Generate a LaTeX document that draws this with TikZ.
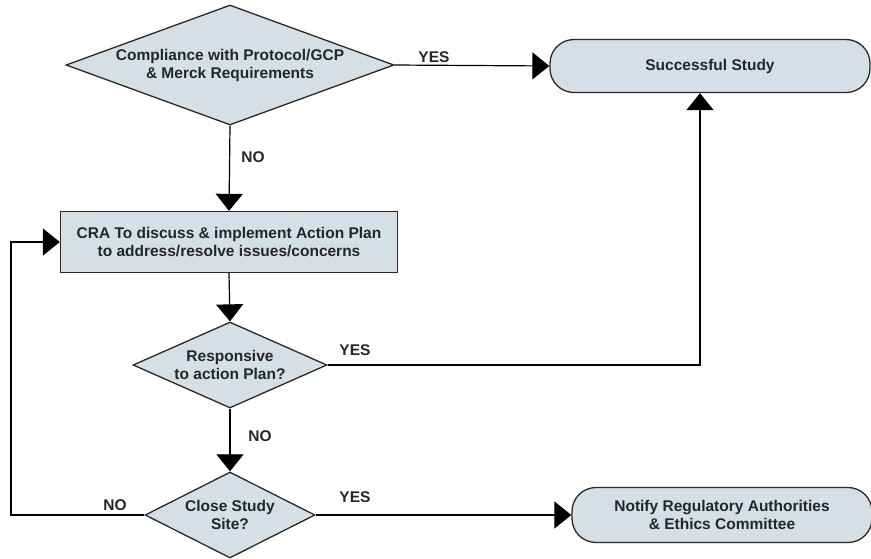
\documentclass[tikz,border=0pt]{standalone}
\usepackage{fontspec}
\setmainfont{Liberation Sans}
\usetikzlibrary{shapes.geometric,arrows.meta}
\definecolor{boxfill}{RGB}{213,224,230}
\definecolor{edge}{RGB}{40,40,40}
\begin{document}
\begin{tikzpicture}[x=1pt,y=-1pt,
  every node/.style={font=\bfseries\fontsize{15.5}{18}\selectfont, text=black!85},
  dec/.style={diamond, draw=edge, fill=boxfill, line width=1.3pt, inner sep=0pt},
  dtext/.style={align=center, inner sep=0pt},
  proc/.style={rectangle, draw=edge, fill=boxfill, line width=1.3pt, align=center, inner sep=0pt},
  term/.style={rectangle, rounded corners=24pt, draw=edge, fill=boxfill, line width=1.3pt, align=center, inner sep=0pt},
  conn/.style={draw=black, line width=1.2pt, -{Triangle[length=17pt,width=27pt]}},
  lbl/.style={inner sep=0pt}]
\useasboundingbox (0,0) rectangle (871,558);
\node[dec, minimum width=328pt, minimum height=120pt] (d1) at (230,65) {};
\node[dtext] (d1t) at (d1.center) {Compliance with Protocol/GCP\\\& Merck Requirements};
\node[term, minimum width=320pt, minimum height=53pt] (ok) at (710,66) {Successful Study};
\node[proc, minimum width=337pt, minimum height=61pt] (cra) at (229,242) {CRA To discuss \& implement Action Plan\\to address/resolve issues/concerns};
\node[dec, minimum width=194pt, minimum height=86pt] (d2) at (230,365) {};
\node[dtext] (d2t) at (d2.center) {Responsive\\to action Plan?};
\node[dec, minimum width=170pt, minimum height=86pt] (d3) at (230,515) {};
\node[dtext] (d3t) at (d3.center) {Close Study\\Site?};
\node[term, minimum width=300pt, minimum height=55pt] (notify) at (722,515) {Notify Regulatory Authorities\\\& Ethics Committee};
\coordinate (upx) at (700,365);
\coordinate (loopb) at (11,515);
\coordinate (loopt) at (11,242);
\draw[conn] (d1.east) -- (ok.west);
\draw[conn] (d1.south) -- (cra.north);
\draw[conn] (cra.south) -- (d2.north);
\draw[conn] (d2.east) -- (upx) -- (ok.south -| upx);
\draw[conn] (d2.south) -- (d3.north);
\draw[conn] (d3.east) -- (notify.west);
\draw[conn] (d3.west) -- (loopb) -- (loopt) -- (cra.west);
\node[lbl] (y1) at (434,57) {YES};
\node[lbl] (n1) at (253,157) {NO};
\node[lbl] (y2) at (355,350) {YES};
\node[lbl] (n2) at (260,436) {NO};
\node[lbl] (n3) at (115,505) {NO};
\node[lbl] (y3) at (355,497) {YES};
\end{tikzpicture}
\end{document}
